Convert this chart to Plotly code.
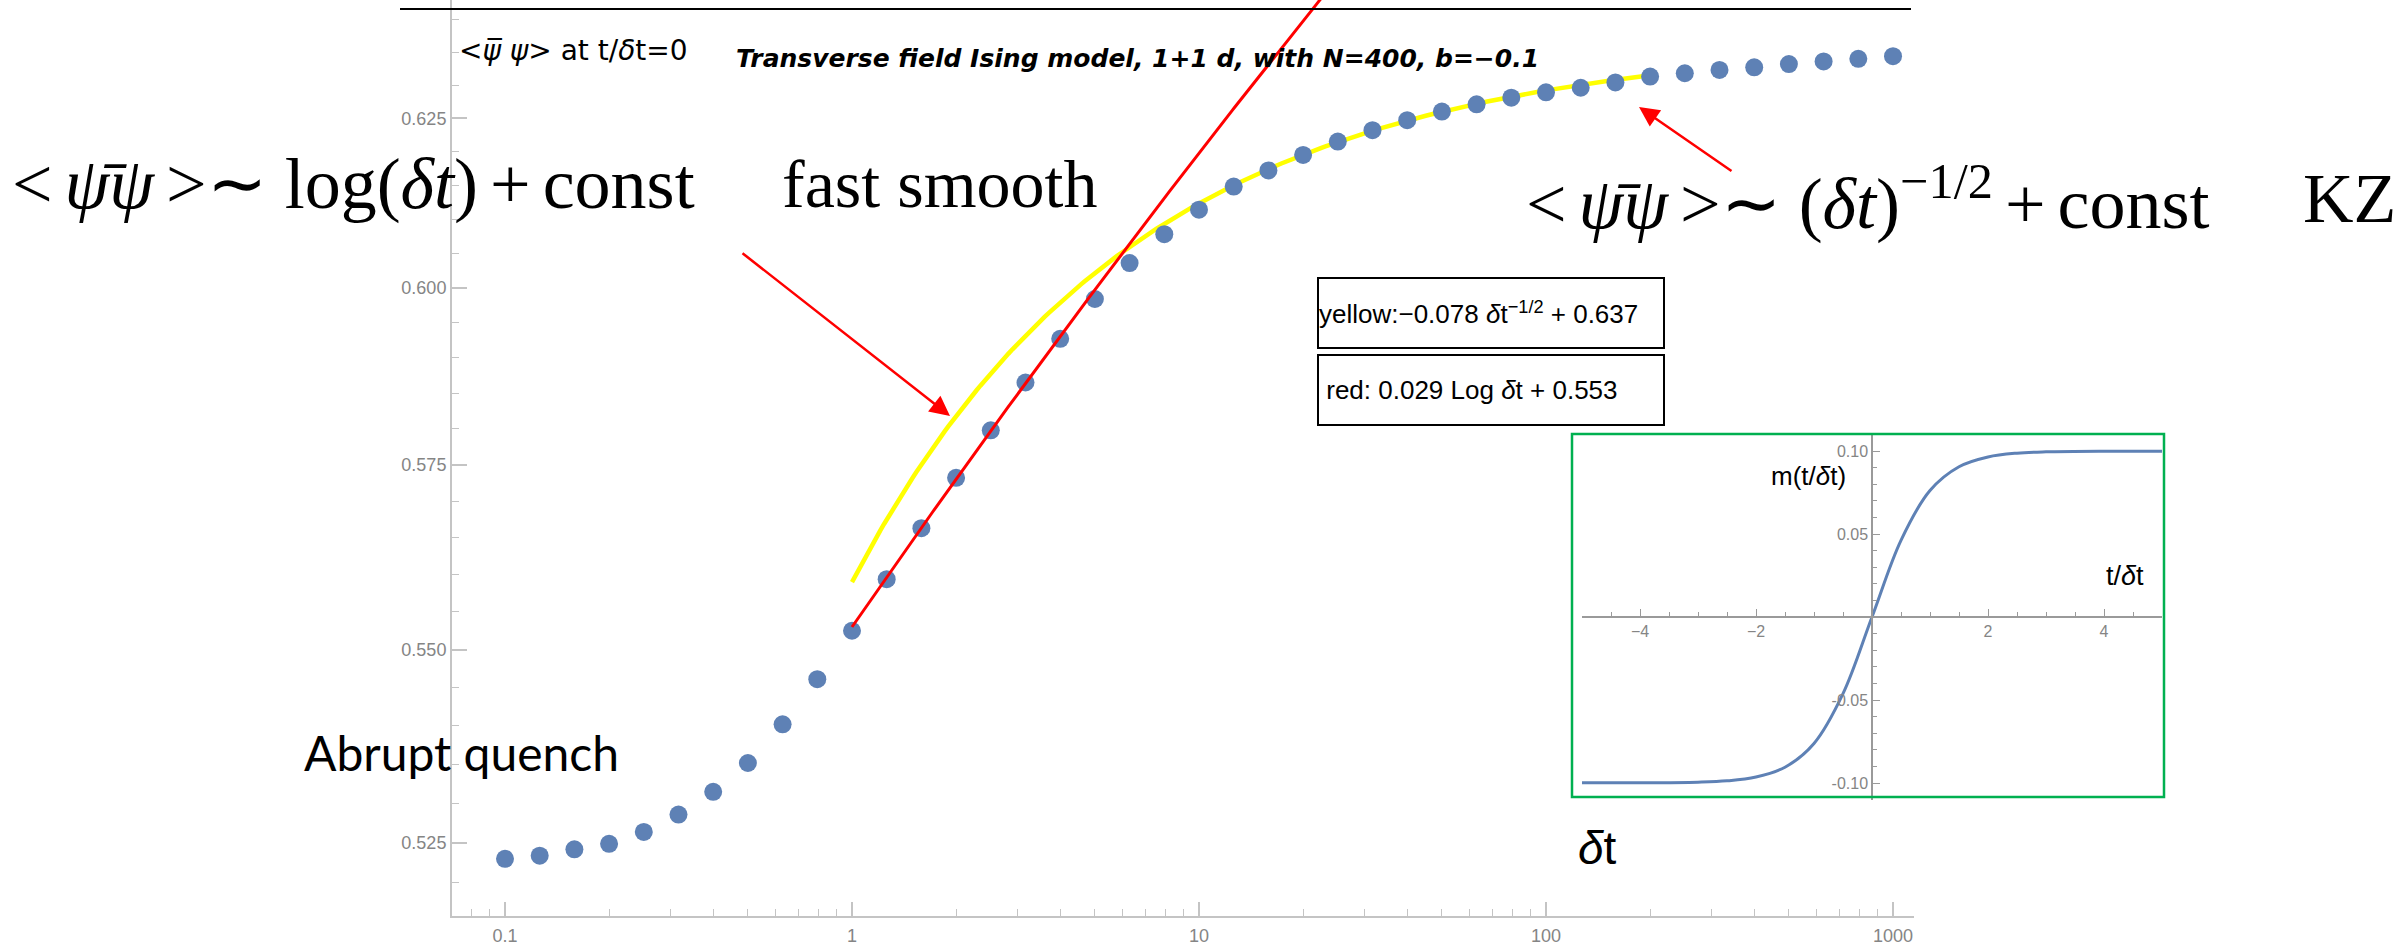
import numpy as np
import plotly.graph_objects as go

W, H = 2397, 952

# --- data -----------------------------------------------------------------
# <psi-bar psi> at t/dt = 0, ten points per decade of dt
dt_exp = list(range(-10, 31))
dt = [10 ** (k / 10) for k in dt_exp]
psibar_psi = [
    0.5230, 0.5234, 0.5242, 0.5249, 0.5264, 0.5286, 0.5315, 0.5352, 0.5402, 0.5461,
    0.5525, 0.5594, 0.5663, 0.5732, 0.5798, 0.5865, 0.5927, 0.5984, 0.6036, 0.6078,
    0.6114, 0.6148, 0.6172, 0.6195, 0.6215, 0.6232, 0.6247, 0.6260, 0.6271, 0.6281,
    0.6289, 0.6296, 0.6304, 0.6313, 0.6318, 0.6323, 0.6327, 0.6332, 0.6336, 0.6340,
    0.6344,
]

# fit coefficients as printed in the legend boxes
yellow_a, yellow_b = -0.078, 0.637     # a * dt^(-1/2) + b
red_a, red_b = 0.029, 0.553            # a * Log dt + b
yellow_span = (1.0, 200.0)
red_span = (1.0, 25.0)

# inset: quench profile m(t/dt)
inset_t = [-5, -4, -3, -2.5, -2, -1.5, -1, -0.5, 0, 0.5, 1, 1.5, 2, 2.5, 3, 4, 5]
inset_m = [-0.0999, -0.0999, -0.0995, -0.0987, -0.0964, -0.0905, -0.0762, -0.0462, 0.0,
           0.0462, 0.0762, 0.0905, 0.0964, 0.0987, 0.0995, 0.0999, 0.0999]

x_ticks = [0.1, 1, 10, 100, 1000]
x_tick_text = ["0.1", "1", "10", "100", "1000"]
y_ticks = [0.525, 0.550, 0.575, 0.600, 0.625]
y_tick_text = ["0.525", "0.550", "0.575", "0.600", "0.625"]
inset_x_ticks = [-4, -2, 2, 4]
inset_x_text = ["\u22124", "\u22122", "2", "4"]
inset_y_ticks = [-0.10, -0.05, 0.05, 0.10]
inset_y_text = ["-0.10", "-0.05", "0.05", "0.10"]


def px(x):
    return x / W


def py(y):
    return 1 - y / H


# fit curves evaluated from the printed coefficients
yx = np.logspace(np.log10(yellow_span[0]), np.log10(yellow_span[1]), 200)
yy = yellow_a * yx ** -0.5 + yellow_b
rx = np.logspace(np.log10(red_span[0]), np.log10(red_span[1]), 200)
ry = red_a * np.log(rx) + red_b

BLUE = "#5E81B5"
AXIS = "#c4c4c4"
TICKFONT = dict(family="Liberation Sans, Arial, sans-serif", size=18, color="#858585")

fig = go.Figure()
fig.add_trace(go.Scatter(x=yx, y=yy, mode="lines", line=dict(color="#FFFF00", width=4.5),
                         showlegend=False, hoverinfo="skip"))
fig.add_trace(go.Scatter(x=dt, y=psibar_psi, mode="markers",
                         marker=dict(color=BLUE, size=18), showlegend=False))
fig.add_trace(go.Scatter(x=rx, y=ry, mode="lines", line=dict(color="#FF0000", width=3),
                         showlegend=False, hoverinfo="skip"))
fig.add_trace(go.Scatter(x=inset_t, y=inset_m, mode="lines", xaxis="x2", yaxis="y2",
                         line=dict(color=BLUE, width=3, shape="spline"), showlegend=False))

x_minor = [k * 10 ** d for d in range(-2, 4) for k in range(2, 10)]
y_minor = [round(0.510 + 0.005 * i, 3) for i in range(28)]
y_minor = [v for v in y_minor if v not in y_ticks]

fig.update_layout(
    width=W, height=H,
    margin=dict(l=0, r=0, t=0, b=0),
    paper_bgcolor="white", plot_bgcolor="rgba(0,0,0,0)",
    xaxis=dict(
        type="log", domain=[px(452), px(1914)],
        range=[-1.1527, 3.0605],
        showgrid=False, zeroline=False,
        showline=True, linecolor=AXIS, linewidth=2,
        ticks="inside", ticklen=14, tickwidth=1.5, tickcolor=AXIS,
        tickvals=x_ticks, ticktext=x_tick_text, tickfont=TICKFONT,
        ticklabelstandoff=2,
        minor=dict(tickvals=x_minor, ticks="inside", ticklen=7, tickcolor=AXIS, tickwidth=1.2),
    ),
    yaxis=dict(
        type="log", domain=[py(916), 1],
        range=[np.log10(0.51586), np.log10(0.64303)],
        showgrid=False, zeroline=False,
        showline=True, linecolor=AXIS, linewidth=2,
        ticks="inside", ticklen=15, tickwidth=1.5, tickcolor=AXIS,
        tickvals=y_ticks, ticktext=y_tick_text, tickfont=TICKFONT,
        minor=dict(tickvals=y_minor, ticks="inside", ticklen=7, tickcolor=AXIS, tickwidth=1.2),
    ),
    xaxis2=dict(
        domain=[px(1582), px(2162)], range=[-5, 5],
        anchor="free", position=py(617),
        showgrid=False, zeroline=False,
        showline=True, linecolor="#9a9a9a", linewidth=1.5,
        ticks="inside", ticklen=7, tickcolor="#9a9a9a",
        tickvals=inset_x_ticks, ticktext=inset_x_text,
        tickfont=dict(family="Liberation Sans, Arial", size=16, color="#858585"),
        minor=dict(dtick=0.5, ticks="inside", ticklen=4, tickcolor="#9a9a9a"),
    ),
    yaxis2=dict(
        domain=[py(799.6), py(434.4)], range=[-0.11, 0.11],
        anchor="free", position=px(1872),
        showgrid=False, zeroline=False,
        showline=True, linecolor="#9a9a9a", linewidth=1.5,
        ticks="inside", ticklen=7, tickcolor="#9a9a9a",
        tickvals=inset_y_ticks, ticktext=inset_y_text,
        tickfont=dict(family="Liberation Sans, Arial", size=16, color="#858585"),
        minor=dict(dtick=0.01, ticks="inside", ticklen=4, tickcolor="#9a9a9a"),
    ),
)

shapes = [
    # rule across the top of the chart
    dict(type="line", xref="paper", yref="paper", x0=px(400), x1=px(1911), y0=py(9), y1=py(9),
         line=dict(color="black", width=2)),
    # frame around the inset
    dict(type="rect", xref="paper", yref="paper", x0=px(1572), x1=px(2164), y0=py(797), y1=py(434),
         line=dict(color="#00B050", width=2.5)),
]
fig.update_layout(shapes=shapes)

SERIF = "Liberation Serif, Times New Roman, serif"
SANS = "Liberation Sans, Arial, sans-serif"
WIDE = "DejaVu Sans, Verdana, sans-serif"
sp = "\u2006"   # narrow space used inside the formulas

ann = []


def text(x, y, s, size, family=SANS, xanchor="left", yanchor="middle", color="black", **kw):
    ann.append(dict(x=px(x), y=py(y), xref="paper", yref="paper", text=s, showarrow=False,
                    xanchor=xanchor, yanchor=yanchor, font=dict(family=family, size=size, color=color),
                    **kw))


text(457, 50, "&lt;<i>\u03c8\u0305</i> <i>\u03c8</i>&gt; at t/<i>\u03b4</i>t=0", 28, family=WIDE)
text(1137, 58, "<b><i>Transverse field Ising model, 1+1 d, with N=400, b=\u22120.1</i></b>", 25,
     xanchor="center", family=WIDE)
text(10, 184, f"&lt;{sp}<i>\u03c8\u0304\u03c8</i>{sp}&gt;\u223c log(<i>\u03b4t</i>){sp}+{sp}const",
     72, family=SERIF)
text(780, 184, "fast smooth", 68, family=SERIF)
text(1524, 198, f"&lt;{sp}<i>\u03c8\u0304\u03c8</i>{sp}&gt;\u223c (<i>\u03b4t</i>)<sup>\u22121/2</sup>{sp}+{sp}const",
     72, family=SERIF)
text(2301, 198, "KZ", 70, family=SERIF)
text(302, 752, "Abrupt quench", 48, family="Lato, Open Sans, sans-serif")
text(1597, 848, "<i>\u03b4</i>t", 46, xanchor="center")
text(1808, 476, "m(t/<i>\u03b4</i>t)", 26, xanchor="center")
text(2125, 576, "t/<i>\u03b4</i>t", 27, xanchor="center")

# formula boxes
ann.append(dict(x=px(1317), y=py(277), xref="paper", yref="paper", xanchor="left", yanchor="top",
                text="yellow:\u22120.078 <i>\u03b4</i>t<sup>\u22121/2</sup> + 0.637", showarrow=False,
                align="left", width=344, height=68, borderwidth=2, bordercolor="black", borderpad=0,
                bgcolor="white", font=dict(family=SANS, size=26, color="black")))
ann.append(dict(x=px(1317), y=py(354), xref="paper", yref="paper", xanchor="left", yanchor="top",
                text=" red: 0.029 Log <i>\u03b4</i>t + 0.553", showarrow=False,
                align="left", width=344, height=68, borderwidth=2, bordercolor="black", borderpad=0,
                bgcolor="white", font=dict(family=SANS, size=26, color="black")))

# red pointer arrows
for (hx, hy), (tx, ty) in [((950, 416), (741, 252)), ((1639, 107), (1733, 172))]:
    ann.append(dict(x=px(hx), y=py(hy), xref="paper", yref="paper", ax=tx - hx, ay=ty - hy,
                    axref="pixel", ayref="pixel", text="", showarrow=True, arrowhead=2,
                    arrowsize=1.6, arrowwidth=2.5, arrowcolor="#FF0000"))

fig.update_layout(annotations=ann)
fig.write_html("out.html")
